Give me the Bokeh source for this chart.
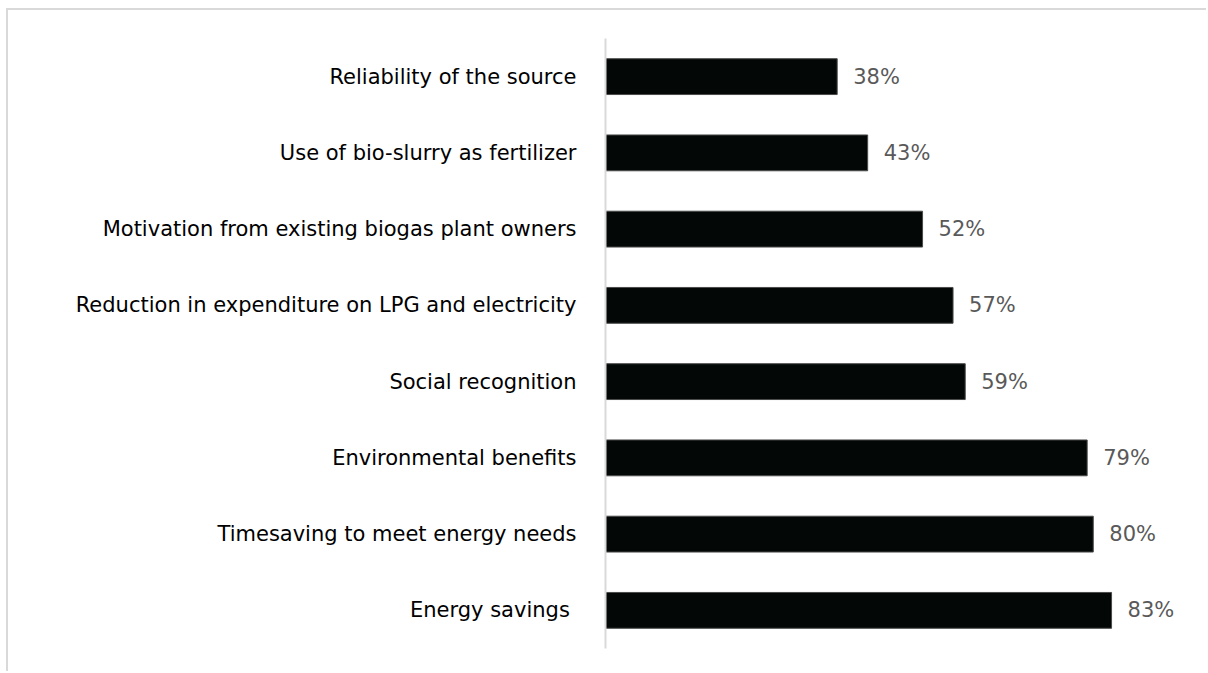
from bokeh.plotting import figure
from bokeh.models import ColumnDataSource, FactorRange, Range1d
from bokeh.core.properties import value
from bokeh.embed import file_html
from bokeh.resources import INLINE

# Data (top to bottom as shown)
categories = [
    "Reliability of the source",
    "Use of bio-slurry as fertilizer",
    "Motivation from existing biogas plant owners",
    "Reduction in expenditure on LPG and electricity",
    "Social recognition",
    "Environmental benefits",
    "Timesaving to meet energy needs",
    "Energy savings ",
]
values = [38, 43, 52, 57, 59, 79, 80, 83]
value_labels = [f"{v}%" for v in values]

source = ColumnDataSource(data=dict(cat=categories, val=values, lab=value_labels))

FONT = "DejaVu Sans"

p = figure(
    width=1200, height=663,
    y_range=FactorRange(factors=list(reversed(categories)), range_padding=0),
    x_range=Range1d(0, 98.9),
    output_backend="svg",
    toolbar_location=None,
    x_axis_location=None,
    min_border_left=597, min_border_right=0,
    min_border_top=28, min_border_bottom=25,
)
p.margin = (8, 0, 0, 6)
p.styles = {"border-top": "2px solid #d9d9d9", "border-left": "2px solid #d9d9d9"}

p.hbar(y="cat", right="val", left=0, height=0.47, source=source,
       fill_color="#030806", line_color="#4a4a4a", line_width=1)

p.text(x="val", y="cat", text="lab", source=source, x_offset=16,
       text_baseline="middle", text_align="left",
       text_color="#595959", text_font_size="21px", text_font=value(FONT))

p.xgrid.visible = False
p.ygrid.visible = False
p.outline_line_color = None

ax = p.yaxis[0]
ax.axis_line_color = "#d9d9d9"
ax.axis_line_width = 2
ax.major_tick_line_color = None
ax.minor_tick_line_color = None
ax.major_label_standoff = 23
ax.major_label_text_font = FONT
ax.major_label_text_font_size = "21px"
ax.major_label_text_color = "#000000"

open("out.html", "w").write(file_html(p, INLINE))
